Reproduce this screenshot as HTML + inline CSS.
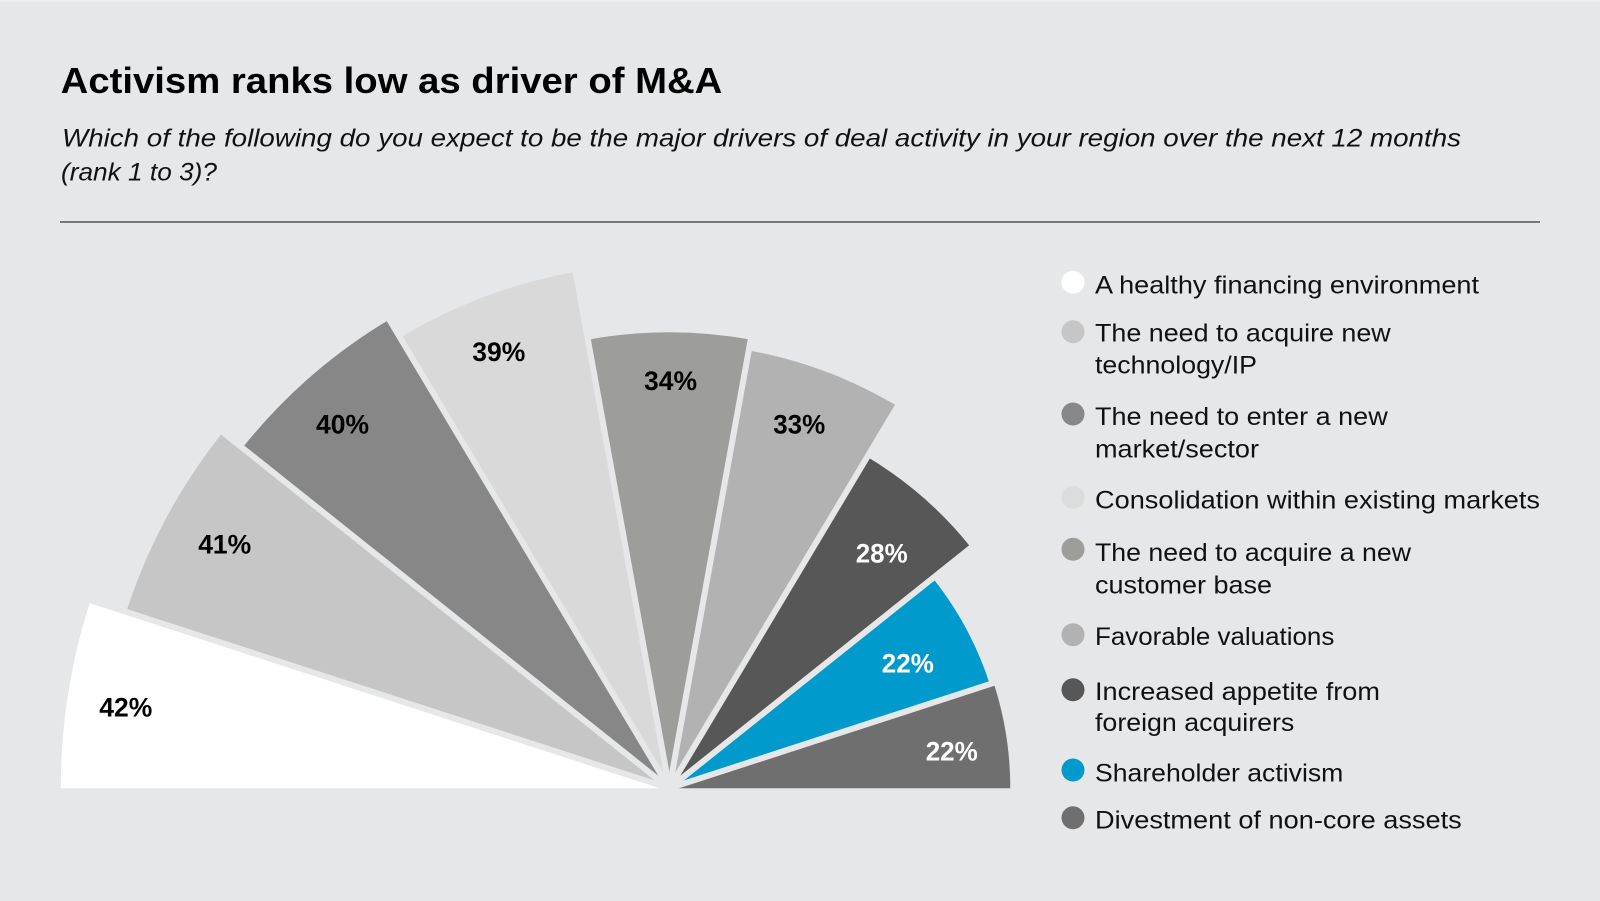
<!DOCTYPE html>
<html>
<head>
<meta charset="utf-8">
<style>
  html, body { margin: 0; padding: 0; background: #e6e7e8; }
  svg { display: block; }
  .t { font-family: "Liberation Sans", Arial, sans-serif; }
</style>
</head>
<body>
<svg width="1600" height="901" viewBox="0 0 1600 901" xmlns="http://www.w3.org/2000/svg">
  <rect x="0" y="0" width="1600" height="901" fill="#e6e7e8"/>
  <rect x="0" y="0" width="1600" height="2" fill="#efefef"/>

  <!-- Title -->
  <text class="t" x="60.7" y="93" font-size="36" font-weight="bold" fill="#000" textLength="661.6" lengthAdjust="spacingAndGlyphs">Activism ranks low as driver of M&amp;A</text>
  <text class="t" x="62" y="146.5" font-size="25" font-style="italic" fill="#111" textLength="1399" lengthAdjust="spacingAndGlyphs">Which of the following do you expect to be the major drivers of deal activity in your region over the next 12 months</text>
  <text class="t" x="61" y="180.7" font-size="25" font-style="italic" fill="#111" textLength="156" lengthAdjust="spacingAndGlyphs">(rank 1 to 3)?</text>

  <!-- Wedges -->
  <path d="M669.3,788.3 L60.8,788.3 A608.5,608.5 0 0 1 90.58,600.26 Z" fill="#ffffff"/>
  <path d="M669.3,788.3 L126.25,611.85 A571,571 0 0 1 222.88,432.29 Z" fill="#c6c6c6"/>
  <path d="M669.3,788.3 L242.42,447.87 A546,546 0 0 1 389.26,319.58 Z" fill="#878787"/>
  <path d="M669.3,788.3 L400.03,337.61 A525,525 0 0 1 575.56,271.73 Z" fill="#d9d9d9"/>
  <path d="M669.3,788.3 L587.88,339.62 A456,456 0 0 1 750.72,339.62 Z" fill="#9d9d9c"/>
  <path d="M669.3,788.3 L748.76,350.45 A445,445 0 0 1 897.54,406.29 Z" fill="#b2b2b2"/>
  <path d="M669.3,788.3 L867.28,456.93 A386,386 0 0 1 971.09,547.63 Z" fill="#575757"/>
  <path d="M669.3,788.3 L932.78,578.18 A337,337 0 0 1 989.81,684.16 Z" fill="#009acd"/>
  <path d="M669.3,788.3 L993.61,682.92 A341,341 0 0 1 1010.3,788.3 Z" fill="#706f6f"/>

  <!-- Gaps -->
  <g stroke="#e6e7e8" stroke-width="6" stroke-linecap="butt">
    <line x1="669.3" y1="788.3" x2="79.64" y2="596.71"/>
    <line x1="669.3" y1="788.3" x2="215.06" y2="426.05"/>
    <line x1="669.3" y1="788.3" x2="384.13" y2="311.0"/>
    <line x1="669.3" y1="788.3" x2="573.77" y2="261.89"/>
    <line x1="669.3" y1="788.3" x2="752.51" y2="329.78"/>
    <line x1="669.3" y1="788.3" x2="902.67" y2="397.70"/>
    <line x1="669.3" y1="788.3" x2="978.90" y2="541.40"/>
    <line x1="669.3" y1="788.3" x2="1003.12" y2="679.83"/>
  </g>
  <rect x="0" y="789" width="1050" height="20" fill="#e6e7e8"/>

  <line x1="60" y1="222" x2="1540" y2="222" stroke="#777777" stroke-width="2"/>

  <!-- Wedge labels -->
  <g class="t" font-size="27" font-weight="bold" text-anchor="middle">
    <text x="125.8" y="716.7" fill="#000" textLength="53" lengthAdjust="spacingAndGlyphs">42%</text>
    <text x="224.7" y="553.3" fill="#000" textLength="53" lengthAdjust="spacingAndGlyphs">41%</text>
    <text x="342.5" y="433.3" fill="#000" textLength="53" lengthAdjust="spacingAndGlyphs">40%</text>
    <text x="498.8" y="361" fill="#000" textLength="53" lengthAdjust="spacingAndGlyphs">39%</text>
    <text x="670.5" y="390" fill="#000" textLength="53" lengthAdjust="spacingAndGlyphs">34%</text>
    <text x="799.2" y="433.3" fill="#000" textLength="52" lengthAdjust="spacingAndGlyphs">33%</text>
    <text x="881.7" y="562.3" fill="#fff" textLength="52" lengthAdjust="spacingAndGlyphs">28%</text>
    <text x="907.8" y="672.3" fill="#fff" textLength="52" lengthAdjust="spacingAndGlyphs">22%</text>
    <text x="951.7" y="760.7" fill="#fff" textLength="52" lengthAdjust="spacingAndGlyphs">22%</text>
  </g>

  <!-- Legend -->
  <g>
    <circle cx="1073" cy="282.3" r="11.5" fill="#ffffff"/>
    <circle cx="1073" cy="331.7" r="11.5" fill="#c6c6c6"/>
    <circle cx="1073" cy="414" r="11.5" fill="#878787"/>
    <circle cx="1073" cy="497.3" r="11.5" fill="#dcdcdc"/>
    <circle cx="1073" cy="549.3" r="11.5" fill="#9d9d9c"/>
    <circle cx="1073" cy="634.7" r="11.5" fill="#b2b2b2"/>
    <circle cx="1073" cy="689.7" r="11.5" fill="#575757"/>
    <circle cx="1073" cy="770" r="11.5" fill="#009acd"/>
    <circle cx="1073" cy="817.7" r="11.5" fill="#706f6f"/>
  </g>
  <g class="t" font-size="25" fill="#111">
    <text x="1095" y="293.3" textLength="384" lengthAdjust="spacingAndGlyphs">A healthy financing environment</text>
    <text x="1095" y="341.7" textLength="295.7" lengthAdjust="spacingAndGlyphs">The need to acquire new</text>
    <text x="1095" y="373.3" textLength="162" lengthAdjust="spacingAndGlyphs">technology/IP</text>
    <text x="1095" y="425" textLength="292.7" lengthAdjust="spacingAndGlyphs">The need to enter a new</text>
    <text x="1095" y="457.3" textLength="164" lengthAdjust="spacingAndGlyphs">market/sector</text>
    <text x="1095" y="508.3" textLength="445" lengthAdjust="spacingAndGlyphs">Consolidation within existing markets</text>
    <text x="1095" y="561" textLength="316" lengthAdjust="spacingAndGlyphs">The need to acquire a new</text>
    <text x="1095" y="593.3" textLength="177" lengthAdjust="spacingAndGlyphs">customer base</text>
    <text x="1095" y="645" textLength="239.3" lengthAdjust="spacingAndGlyphs">Favorable valuations</text>
    <text x="1095" y="700" textLength="285" lengthAdjust="spacingAndGlyphs">Increased appetite from</text>
    <text x="1095" y="731" textLength="199.3" lengthAdjust="spacingAndGlyphs">foreign acquirers</text>
    <text x="1095" y="781.7" textLength="248.3" lengthAdjust="spacingAndGlyphs">Shareholder activism</text>
    <text x="1095" y="828.3" textLength="366.7" lengthAdjust="spacingAndGlyphs">Divestment of non-core assets</text>
  </g>
</svg>
</body>
</html>
